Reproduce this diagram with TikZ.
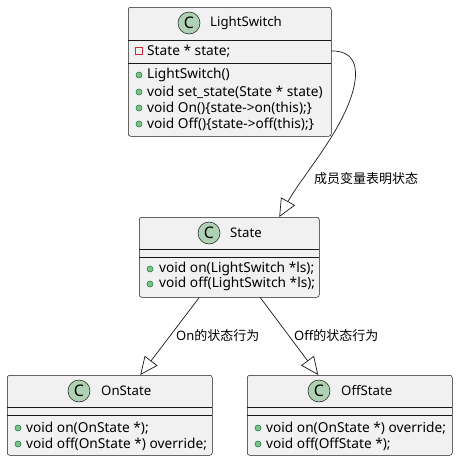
\documentclass[tikz,border=0pt]{standalone}
\usepackage{fontspec}
\setmainfont{Noto Sans}
\newfontfamily\cjk{Noto Sans CJK SC}
\usetikzlibrary{arrows.meta}
\definecolor{boxbg}{HTML}{F1F1F1}
\definecolor{bord}{HTML}{181818}
\definecolor{spotc}{HTML}{ADD1B2}
\definecolor{dotf}{HTML}{84BE84}
\definecolor{dotd}{HTML}{038048}
\definecolor{privc}{HTML}{C82930}
\begin{document}
\begin{tikzpicture}[x=1pt,y=-1pt,
  cls/.style={draw=bord, fill=boxbg, rounded corners=2.5pt, line width=0.5pt, inner sep=0pt, anchor=north west},
  sepl/.style={draw=bord, line width=0.5pt},
  spot/.style={circle, draw=bord, fill=spotc, line width=0.5pt, minimum size=22pt, inner sep=0pt, font=\bfseries\fontsize{16}{16}\selectfont},
  cname/.style={anchor=west, inner sep=0pt, font=\fontsize{13.2}{13}\selectfont},
  meth/.style={anchor=west, inner sep=0pt, font=\fontsize{13.7}{13}\selectfont},
  mdot/.style={circle, draw=dotd, fill=dotf, line width=0.5pt, minimum size=6pt, inner sep=0pt},
  priv/.style={draw=privc, minimum size=6.5pt, inner sep=0pt, line width=0.8pt},
  inh/.style={draw=bord, line width=0.7pt, -{Triangle[open, length=18pt, width=16pt, fill=white]}},
  lbl/.style={anchor=west, inner sep=0pt, font=\fontsize{13}{13}\selectfont}
]
\useasboundingbox (0,0) rectangle (458,461);

% LightSwitch
\node[cls, minimum width=203pt, minimum height=129pt] (LS) at (128,7) {};
\draw[sepl] (128,40) -- (331,40);
\draw[sepl] (128,63) -- (331,63);
\node[spot] (LSc) at (189,23) {C};
\node[cname] (LSn) at (210,23) {LightSwitch};
\node[priv] (LSp) at (139,51) {};
\node[meth] (LSa) at (147,51) {State * state;};
\node[mdot] (LSd1) at (139,75) {};
\node[meth] (LSm1) at (147,75) {LightSwitch()};
\node[mdot] (LSd2) at (139,92) {};
\node[meth] (LSm2) at (147,92) {void set\_state(State * state)};
\node[mdot] (LSd3) at (139,108) {};
\node[meth] (LSm3) at (147,108) {void On()\{state->on(this);\}};
\node[mdot] (LSd4) at (139,124) {};
\node[meth] (LSm4) at (147,124) {void Off()\{state->off(this);\}};
\coordinate (LSout) at (331,51);

% State
\node[cls, minimum width=180pt, minimum height=80pt] (ST) at (139,217) {};
\draw[sepl] (139,249) -- (319,249);
\draw[sepl] (139,257) -- (319,257);
\node[spot] (STc) at (209,233) {C};
\node[cname] (STn) at (230,233) {State};
\node[mdot] (STd1) at (150,269) {};
\node[meth] (STm1) at (159,269) {void on(LightSwitch *ls);};
\node[mdot] (STd2) at (150,284) {};
\node[meth] (STm2) at (159,284) {void off(LightSwitch *ls);};

% OnState
\node[cls, minimum width=205pt, minimum height=80pt] (ON) at (7,375) {};
\draw[sepl] (7,407) -- (212,407);
\draw[sepl] (7,415) -- (212,415);
\node[spot] (ONc) at (79,391) {C};
\node[cname] (ONn) at (101,391) {OnState};
\node[mdot] (ONd1) at (18,428) {};
\node[meth] (ONm1) at (26,428) {void on(OnState *);};
\node[mdot] (ONd2) at (18,444) {};
\node[meth] (ONm2) at (26,444) {void off(OnState *) override;};

% OffState
\node[cls, minimum width=205pt, minimum height=80pt] (OF) at (247,375) {};
\draw[sepl] (247,407) -- (452,407);
\draw[sepl] (247,415) -- (452,415);
\node[spot] (OFc) at (319,391) {C};
\node[cname] (OFn) at (341,391) {OffState};
\node[mdot] (OFd1) at (258,428) {};
\node[meth] (OFm1) at (266,428) {void on(OnState *) override;};
\node[mdot] (OFd2) at (258,444) {};
\node[meth] (OFm2) at (266,444) {void off(OffState *);};

% connectors
\draw[inh] (LSout) .. controls (362,50) and (360,80) .. (345,112)
  .. controls (330,145) and (300,180) .. ([xshift=50pt]ST.north);
\node[lbl] (L1) at (314,179) {\cjk 成员变量表明状态};

\draw[inh] ([xshift=-30pt]ST.south) -- ([xshift=30.5pt]ON.north);
\node[lbl] (L2) at (176,336) {On{\cjk 的状态行为}};

\draw[inh] ([xshift=31pt]ST.south) -- ([xshift=-31.5pt]OF.north);
\node[lbl] (L3) at (294,336) {Off{\cjk 的状态行为}};

\end{tikzpicture}
\end{document}
